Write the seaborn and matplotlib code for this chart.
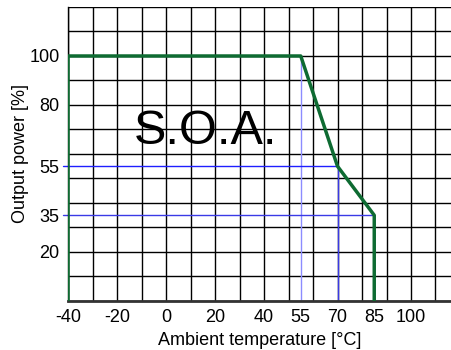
import matplotlib
matplotlib.use("Agg")
import matplotlib.pyplot as plt
from matplotlib.ticker import MultipleLocator, FixedLocator
import seaborn as sns
import pandas as pd

# Data
temp = [-40, -40, 55, 70, 85, 85]
power = [0, 100, 100, 55, 35, 0]
x_ticks = [-40, -20, 0, 20, 40, 55, 70, 85, 100]
y_ticks = [20, 35, 55, 80, 100]
guide_temps = [55, 70, 85]
guide_powers = [100, 55, 35]

sns.set_style("white")
plt.rcParams['font.family'] = ['Liberation Sans', 'DejaVu Sans']
plt.rcParams['axes.unicode_minus'] = False
plt.rcParams['text.color'] = 'black'
plt.rcParams['axes.labelcolor'] = 'black'

fig = plt.figure(figsize=(4.52, 3.5), dpi=100)
ax = fig.add_axes([68/452, 49/350, (452-68)/452, (301-6.5)/350])

ax.set_xlim(-40, -40 + (452-68)/2.45)
ax.set_ylim(0, 120.2)

ax.xaxis.set_major_locator(FixedLocator(x_ticks))
ax.yaxis.set_major_locator(FixedLocator(y_ticks))
ax.xaxis.set_minor_locator(MultipleLocator(10))
ax.yaxis.set_minor_locator(MultipleLocator(10))
ax.xaxis.remove_overlapping_locs = False
ax.yaxis.remove_overlapping_locs = False
ax.grid(False, which='major')
ax.grid(True, which='minor', color='black', linewidth=1.0)
ax.tick_params(which='both', length=0, labelsize=13, pad=6, colors='black')
ax.set_axisbelow(True)

# Blue guide lines
ax.plot([guide_temps[0], guide_temps[0]], [0, guide_powers[0]], color='#8c8cff', lw=1, zorder=2)
ax.plot([guide_temps[1], guide_temps[1]], [0, guide_powers[1]], color='#3a3ae6', lw=1, zorder=2)
ax.plot([-42, guide_temps[1]], [guide_powers[1], guide_powers[1]], color='#1f1fff', lw=1, zorder=2, clip_on=False)
ax.plot([-42, guide_temps[2]], [guide_powers[2], guide_powers[2]], color='#3a3ae6', lw=1, zorder=2, clip_on=False)

df = pd.DataFrame({'temp': temp, 'power': power})
sns.lineplot(data=df, x='temp', y='power', sort=False, estimator=None,
             color='#0e6b32', linewidth=2.5, ax=ax, zorder=3)

ax.text(16, 69, "S.O.A.", fontsize=35, ha='center', va='center', color='black')

ax.set_xlabel("Ambient temperature [°C]", fontsize=13, labelpad=4, color='black')
ax.set_ylabel("Output power [%]", fontsize=13, labelpad=0, color='black')

for s in ['top', 'right']:
    ax.spines[s].set_visible(False)
ax.spines['left'].set_color('black')
ax.spines['bottom'].set_color('#333333')
ax.spines['bottom'].set_linewidth(2)
ax.spines['left'].set_linewidth(1)

fig.savefig("out.png", dpi=100)
